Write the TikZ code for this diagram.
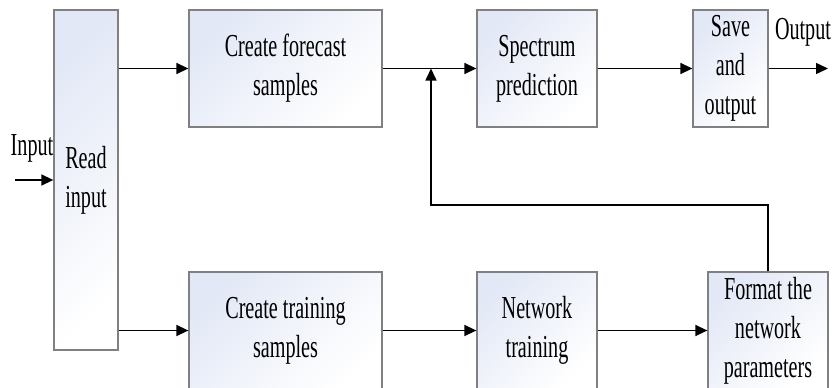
\documentclass[tikz,border=0pt]{standalone}
\usepackage{fontspec}
\setmainfont{Liberation Serif}[FakeStretch=0.63]
\usetikzlibrary{arrows.meta}
\definecolor{boxtint}{RGB}{226,232,246}
\definecolor{boxedge}{RGB}{128,128,128}

\begin{document}
\begin{tikzpicture}[x=1pt, y=-1pt,
  every node/.style={font=\fontsize{32}{39}\selectfont, inner sep=0pt, align=center},
  block/.style={draw=boxedge, line width=1.3pt, top color=boxtint, bottom color=white, shading angle=45},
  flow/.style={line width=1.5pt, -{Triangle[length=12pt, width=11pt]}}]
\useasboundingbox (0,0) rectangle (835,388);
% blocks
\node[block, minimum width=64pt, minimum height=340pt] (B1) at (86,180) {Read\\input};
\node[block, minimum width=193pt, minimum height=117pt] (B2) at (285.5,68.5) {Create forecast\\samples};
\node[block, minimum width=120pt, minimum height=117pt] (B3) at (537,68.5) {Spectrum\\prediction};
\node[block, minimum width=75pt, minimum height=117pt] (B4) at (730.5,68.5) {Save\\and\\output};
\node[block, minimum width=193pt, minimum height=117pt] (B5) at (285.5,330.5) {Create training\\samples};
\node[block, minimum width=120pt, minimum height=117pt] (B6) at (537,330.5) {Network\\training};
\node[block, minimum width=120pt, minimum height=117pt] (B7) at (768,330.5) {Format the\\network\\parameters};
% labels and free ends
\node (L1) at (32,148) {Input};
\node (L2) at (803,32) {Output};
\coordinate (C0) at (15,180);
\coordinate (C1) at (828,68.5);
\coordinate (C2) at (431,205);
% connectors
\draw[flow] (C0) -- (B1);
\draw[flow] (B1.east |- B2.west) -- (B2.west);
\draw[flow] (B2) -- (B3);
\draw[flow] (B3) -- (B4);
\draw[flow] (B4) -- (C1);
\draw[flow] (B1.east |- B5.west) -- (B5.west);
\draw[flow] (B5) -- (B6);
\draw[flow] (B6) -- (B7);
\draw[flow] (B7.north) |- (C2) -- (C2 |- B2.east);
\end{tikzpicture}
\end{document}
